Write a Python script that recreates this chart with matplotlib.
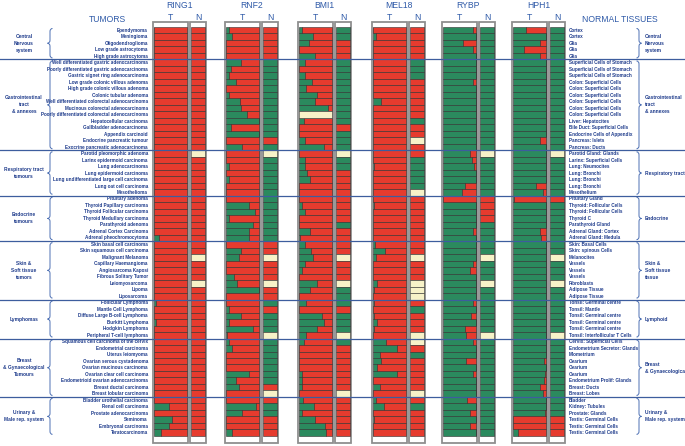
import numpy as np
import matplotlib
matplotlib.use('Agg')
from matplotlib import pyplot as plt
from matplotlib.patches import Rectangle, PathPatch
from matplotlib.path import Path

# ---- data ----
tumors = ['Ependymoma', 'Meningioma', 'Oligodendroglioma', 'Low grade astrocytoma', 'High grade astrocytoma',
          'Well differentiated gastric adenocarcinoma', 'Poorly differentiated gastric adenocarcinoma',
          'Gastric signet ring adenocarcinoma', 'Low grade colonic villous adenoma', 'High grade colonic villous adenoma',
          'Colonic tubular adenoma', 'Well differentiated colorectal adenocarcinoma', 'Mucinous colorectal adenocarcinoma',
          'Poorly differentiated colorectal adenocarcinoma', 'Hepatocellular carcinoma', 'Gallbladder adenocarcinoma',
          'Appendix carcinoid', 'Endocrine pancreatic tumour', 'Exocrine pancreatic adenocarcinoma',
          'Parotid pleomorphic adenoma', 'Larinx epidermoid carcinoma', 'Lung adenocarcinoma', 'Lung epidermoid carcinoma',
          'Lung undifferentiated large cell carcinoma', 'Lung oat cell carcinoma', 'Mesothelioma',
          'Pituitary adenoma', 'Thyroid Papillary carcinoma', 'Thyroid Follicular carcinoma', 'Thyroid Medullary carcinoma',
          'Parathyroid adenoma', 'Adrenal Cortex Carcinoma', 'Adrenal pheochromocytoma',
          'Skin basal cell carcinoma', 'Skin squamous cell carcinoma', 'Malignant Melanoma', 'Capillary Haemangioma',
          'Angiosarcoma Kaposi', 'Fibrous Solitary Tumor', 'Leiomyosarcoma', 'Lipoma', 'Liposarcoma',
          'Follicular Lymphoma', 'Mantle Cell Lymphoma', 'Diffuse Large B-cell Lymphoma', 'Burkitt Lymphoma',
          'Hodgkin Lymphoma', 'Peripheral T-cell lymphoma',
          'Squamous cell carcinoma of the cervix', 'Endometrial carcinoma', 'Uterus leiomyoma',
          'Ovarian serous cystadenoma', 'Ovarian mucinous carcinoma', 'Ovarian clear cell carcinoma',
          'Endometrioid ovarian adenocarcinoma', 'Breast ductal carcinoma', 'Breast lobular carcinoma',
          'Bladder urothelial carcinoma', 'Renal cell carcinoma', 'Prostate adenocarcinoma', 'Seminoma',
          'Embryonal carcinoma', 'Teratocarcinoma']

normals = ['Cortex', 'Cortex', 'Glia', 'Glia', 'Glia',
           'Superficial Cells of Stomach', 'Superficial Cells of Stomach', 'Superficial Cells of Stomach',
           'Colon: Superficial Cells', 'Colon: Superficial Cells', 'Colon: Superficial Cells',
           'Colon: Superficial Cells', 'Colon: Superficial Cells', 'Colon: Superficial Cells',
           'Liver: Hepatocites', 'Bile Duct: Superficial Cells', 'Endocrine Cells of Appendix',
           'Pancreas: Islets', 'Pancreas: Ducts',
           'Parotid Gland: Glands', 'Larinx: Superficial Cells', 'Lung: Neumocites', 'Lung: Bronchi',
           'Lung: Bronchi', 'Lung: Bronchi', 'Mesothelium',
           'Pituitary Gland', 'Thyroid: Follicular Cells', 'Thyroid: Follicular Cells', 'Thyroid C',
           'Parathyroid Gland', 'Adrenal Gland: Cortex', 'Adrenal Gland: Medula',
           'Skin: Basal Cells', 'Skin: spinous Cells', 'Melanocites', 'Vessels', 'Vessels', 'Vessels',
           'Fibroblasts', 'Adipose Tissue', 'Adipose Tissue',
           'Tonsil: Germinal centre', 'Tonsil: Mantle', 'Tonsil: Germinal centre', 'Tonsil: Germinal centre',
           'Tonsil: Germinal centre', 'Tonsil: Interfollicular T Cells',
           'Cervix: Superficial Cells', 'Endometrium Secretor: Glands', 'Miometrium', 'Ovarium', 'Ovarium',
           'Ovarium', 'Endometrium Prolif: Glands', 'Breast: Ducts', 'Breast: Lobes',
           'Bladder', 'Kidney: Tubules', 'Prostate: Glands', 'Testis: Germinal Cells',
           'Testis: Germinal Cells', 'Testis: Germinal Cells']

group_sizes = [5, 14, 7, 7, 9, 6, 9, 6]
tumor_groups = ['Central\nNervous\nsystem', 'Gastrointestinal\ntract\n& annexes', 'Respiratory tract\ntumours',
                'Endocrine\ntumours', 'Skin &\nSoft tissue\ntumors', 'Lymphomas',
                'Breast\n& Gynaecological\nTumours', 'Urinary &\nMale rep. system']
normal_groups = ['Central\nNervous\nsystem', 'Gastrointestinal\ntract\n& annexes', 'Respiratory tract',
                 'Endocrine', 'Skin &\nSoft tissue\ntissue', 'Lymphoid',
                 'Breast\n& Gynaecological', 'Urinary &\nMale rep. system']

proteins = ['RING1', 'RNF2', 'BMI1', 'MEL18', 'RYBP', 'HPH1']

# fraction of tumour cells negative (green); None = not available (cream)
ring1_t = ([0, 0, 0, 0, 0] +
           [0] * 14 +
           [0] * 7 +
           [0, 0, 0, 0, 0, 0, 0.15] +
           [0] * 9 +
           [0.08, 0, 0, 0.07, 0, 0] +
           [0] * 9 +
           [0, 0.47, 0, 0.55, 0.47, 0.22])
rnf2_t = ([0.1, 0.2, 0, 0, 0] +
          [0.45, 0.15, 0.1, 0.3, 0.02, 0.1, 0.43, 0.47, 0.62, 1.0, 0.15, 1.0, 0, 0.5] +
          [0, 0, 0.1, 0, 0.1, 0, 0] +
          [0, 0.7, 0.88, 0.1, 0.8, 0.7, 0.7] +
          [0, 0.45, 0.4, 0, 0, 0.25, 0.33, 1.0, 0] +
          [0, 0.1, 0.45, 0.1, 0.8, 0.05] +
          [0.1, 0.2, 0, 0, 0, 0.7, 0.3, 0.4, 0] +
          [0, 0.9, 0.5, 0, 0, 0.2])
bmi1_t = ([0.1, 0.43, 0.3, 0, 0.48] +
          [0.2, 0, 0.2, 0.4, 0.22, 0.55, 0.5, 0.87, None, 0.15, 0, 0, 0.2, 0.75] +
          [0, 0.2, 0.2, 0.25, 0.33, 0, 0] +
          [0, 0.1, 0.2, 0, 0, 0.33, 0.05] +
          [0.2, 0.38, 0.43, 0.2, 0.1, 0, 0.55, 0.35, 0] +
          [0.22, 0, 0.68, 0.75, 0.55, 0.22] +
          [0.15, 0, 0, 0, 0, 0.1, 0.1, 0.1, 0] +
          [0.12, 0.45, 0.1, 0.5, 0.78, 0.8])
mel18_t = ([0, 0.1, 0, 0, 0] +
           [0, 0, 0, 0, 0, 0, 0.25, 0, 0, 0, 0, 0, 0, 0] +
           [0, 0, 0.05, 0, 0, 0, 0] +
           [0, 0.05, 0, 0, 0, 0, 0] +
           [0.08, 0.37, 0.1, 0, 0, 0, 0.14, 0.05, 0] +
           [0.05, 0, 0.05, 0.13, 0.05, 0] +
           [0.4, 0.72, 0.22, 0.25, 0.12, 0.72, 0, 0.22, 0] +
           [0.1, 0.33, 0, 0.05, 0, 0])
rybp_t = ([0.9, 1, 0.6, 0.9, 1] +
          [1, 1, 1, 0.9, 1, 1, 1, 1, 1, 1, 1, 1, 1, 1] +
          [0.8, 0.87, 0.93, 1, 1, 0.67, 0.57] +
          [0, 1, 1, 1, 1, 0.9, 1] +
          [1, 1, 1, 0.9, 0.8, 1, 1, 1, 1] +
          [0.9, 1, 0.83, 1, 0.67, 0.7] +
          [0.9, 1, 1, 0.7, 1, 0.9, 1, 1, 1] +
          [0.72, 1, 0.8, 1, 0.8, 1])
hph1_t = ([0.4, 1, 0.82, 0.33, 0.82] +
          [1, 1, 1, 1, 1, 1, 1, 1, 1, 1, 1, 1, 0.82, 1] +
          [1, 1, 1, 1, 1, 0.68, 0.9] +
          [0.05, 1, 1, 1, 1, 0.82, 0.85] +
          [1] * 9 +
          [1] * 6 +
          [1, 1, 1, 0.92, 1, 0.95, 0.92, 0.82, 0.9] +
          [1, 1, 0.95, 0, 0, 0.15])

# normal tissue status: R positive, G negative, C not available
ring1_n = 'RRRRR' + 'R' * 14 + 'CRRRRRR' + 'RRRRRRR' + 'RRCRRRCRR' + 'RRRRRR' + 'RRRRRRRRR' + 'RRRRRR'
rnf2_n = 'RRRRR' + 'GGGGGGGGGGGGRG' + 'CGGGGGG' + 'GGGGGGG' + 'RRCRRRCRR' + 'GRGGGC' + 'GGGGGGGRC' + 'RGGRRR'
bmi1_n = 'GGRRR' + 'GGGGGGGGGGRGGG' + 'CGGRRRR' + 'RRRRGRR' + 'RRCRRRCGG' + 'GRGGGC' + 'GRRRRRRRC' + 'RRRRRR'
mel18_n = 'RRRRR' + 'GGGRRRRRRGRRCR' + 'RGGGGGC' + 'RRRRRRR' + 'RRCRRRCCC' + 'RGRRRC' + 'CRGRRRRRC' + 'RGRRRR'
rybp_n = 'GGGGG' + 'G' * 14 + 'CGGGGGG' + 'RRRRGGG' + 'GGCGGGCGG' + 'GGGGGC' + 'G' * 9 + 'GGGGGG'
hph1_n = 'GGGGG' + 'G' * 14 + 'CGGGGGG' + 'RGGGGGG' + 'GGCGGGCGG' + 'GGGGGC' + 'G' * 9 + 'GGGRRR'

tumor_vals = [ring1_t, rnf2_t, bmi1_t, mel18_t, rybp_t, hph1_t]
normal_vals = [ring1_n, rnf2_n, bmi1_n, mel18_n, rybp_n, hph1_n]

# ---- layout / style ----
RED = '#e63b2e'
GREEN = '#2b8a5e'
CREAM = '#f7f2c8'
NAVY = '#1f3c8c'
BLUE = '#2f5aa8'
LINE = '#3d5d9e'
status_col = {'R': RED, 'G': GREEN, 'C': CREAM}

row_top = 27.0
row_h = 6.49
panel_x = [153, 225, 298, 372, 442, 512]
t_w = 35
n_gap = 2
n_w = 16

fig = plt.figure(figsize=(6.85, 4.46), dpi=100)
ax = fig.add_axes([0, 0, 1, 1])
ax.set_xlim(0, 685)
ax.set_ylim(446, 0)
ax.axis('off')

n_rows = len(tumors)
yc = row_top + row_h * (np.arange(n_rows) + 0.5)
bounds = np.concatenate([[0], np.cumsum(group_sizes)])

lab_font = ['Liberation Sans', 'DejaVu Sans']

for p, (name, tv, nv, x0) in enumerate(zip(proteins, tumor_vals, normal_vals, panel_x)):
    # frames
    ax.add_patch(Rectangle((x0, 22), t_w, 421, facecolor='white', edgecolor='#8f8f8f', lw=1.3, zorder=1))
    nx = x0 + t_w + n_gap
    ax.add_patch(Rectangle((nx, 22), n_w, 421, facecolor='white', edgecolor='#8f8f8f', lw=1.3, zorder=1))
    ax.text(x0 + (t_w + n_gap + n_w) / 2, 6, name, ha='center', va='center', fontsize=6.2,
            color=BLUE, family=lab_font)
    ax.text(x0 + t_w / 2, 17, 'T', ha='center', va='center', fontsize=6.2, color=BLUE, family=lab_font)
    ax.text(nx + n_w / 2, 17, 'N', ha='center', va='center', fontsize=6.2, color=BLUE, family=lab_font)

    inner = t_w - 1.5
    g = np.array([np.nan if v is None else v for v in tv], dtype=float)
    na = np.isnan(g)
    gg = np.where(na, 0, g)
    ax.barh(yc[~na], gg[~na] * inner, left=x0 + 0.75, height=row_h, color=GREEN,
            edgecolor='#2e2e2e', lw=0.4, zorder=2)
    ax.barh(yc[~na], (1 - gg[~na]) * inner, left=x0 + 0.75 + gg[~na] * inner, height=row_h, color=RED,
            edgecolor='#2e2e2e', lw=0.4, zorder=2)
    if na.any():
        ax.barh(yc[na], inner, left=x0 + 0.75, height=row_h, color=CREAM,
                edgecolor='#2e2e2e', lw=0.4, zorder=2)
    ax.barh(yc, n_w - 1.5, left=nx + 0.75, height=row_h, color=[status_col[s] for s in nv],
            edgecolor='#2e2e2e', lw=0.4, zorder=2)

# row labels
for i in range(n_rows):
    ax.text(148, yc[i], tumors[i], ha='right', va='center', fontsize=3.3, fontweight='bold',
            color=NAVY, family=lab_font)
    ax.text(569, yc[i], normals[i], ha='left', va='center', fontsize=3.3, fontweight='bold',
            color=NAVY, family=lab_font)

ax.text(107, 19, 'TUMORS', ha='center', va='center', fontsize=6.2, color=BLUE, family=lab_font)
ax.text(620, 19, 'NORMAL TISSUES', ha='center', va='center', fontsize=6.2, color=BLUE, family=lab_font)


def brace(x, y0, y1, w):
    # curly brace, tip pointing towards -w side
    r = 3
    ym = (y0 + y1) / 2
    verts = [(x + w, y0), (x, y0), (x, y0 + r), (x, ym - r), (x, ym), (x - w, ym),
             (x, ym), (x, ym + r), (x, y1 - r), (x, y1), (x + w, y1)]
    codes = [Path.MOVETO, Path.CURVE3, Path.CURVE3, Path.LINETO, Path.CURVE3, Path.CURVE3,
             Path.CURVE3, Path.CURVE3, Path.LINETO, Path.CURVE3, Path.CURVE3]
    ax.add_patch(PathPatch(Path(verts, codes), facecolor='none', edgecolor='#4c6fb3', lw=0.7))


for k in range(len(group_sizes)):
    y0 = row_top + row_h * bounds[k] + 1.5
    y1 = row_top + row_h * bounds[k + 1] - 1.5
    ym = (y0 + y1) / 2
    brace(50, y0, y1, 2.5)
    brace(639, y0, y1, -2.5)
    ax.text(24, ym, tumor_groups[k], ha='center', va='center', fontsize=3.5, fontweight='bold',
            color=NAVY, family=lab_font, linespacing=1.5)
    ax.text(645, ym, normal_groups[k], ha='left', va='center', fontsize=3.5, fontweight='bold',
            color=NAVY, family=lab_font, linespacing=1.5)

# group separators
for b in bounds[1:-1]:
    ax.axhline(row_top + row_h * b, color=LINE, lw=0.9, zorder=5)

fig.savefig('out.png', dpi=100)
